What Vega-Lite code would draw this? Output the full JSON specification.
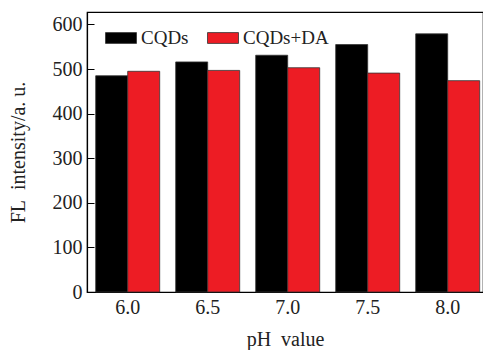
{
  "$schema": "https://vega.github.io/schema/vega-lite/v6.json",
  "width": 396,
  "height": 280,
  "autosize": {"type": "none"},
  "padding": {"left": 87, "top": 12, "right": 0, "bottom": 58},
  "background": "white",
  "config": {
    "font": "Liberation Serif",
    "view": {"stroke": "black", "strokeWidth": 1.2}
  },
  "data": {
    "values": [
      {"pH": "6.0", "sample": "CQDs", "FL": 485},
      {"pH": "6.0", "sample": "CQDs+DA", "FL": 495},
      {"pH": "6.5", "sample": "CQDs", "FL": 516},
      {"pH": "6.5", "sample": "CQDs+DA", "FL": 497},
      {"pH": "7.0", "sample": "CQDs", "FL": 531},
      {"pH": "7.0", "sample": "CQDs+DA", "FL": 503},
      {"pH": "7.5", "sample": "CQDs", "FL": 555},
      {"pH": "7.5", "sample": "CQDs+DA", "FL": 491},
      {"pH": "8.0", "sample": "CQDs", "FL": 579},
      {"pH": "8.0", "sample": "CQDs+DA", "FL": 474}
    ]
  },
  "mark": {"type": "bar", "stroke": "#333333", "strokeWidth": 0.8},
  "encoding": {
    "x": {
      "field": "pH",
      "type": "nominal",
      "scale": {"paddingInner": 0.2, "paddingOuter": 0.075, "align": 0.725},
      "axis": {
        "title": "pH\u00a0\u00a0value",
        "labelAngle": 0,
        "ticks": false,
        "labelFontSize": 20,
        "labelColor": "#222222",
        "labelPadding": 5,
        "titleFontSize": 20,
        "titleFontWeight": "normal",
        "titleColor": "#222222",
        "titlePadding": 12,
        "domainColor": "black",
        "domainWidth": 1.2
      }
    },
    "xOffset": {"field": "sample", "type": "nominal", "scale": {"paddingInner": 0, "paddingOuter": 0}},
    "y": {
      "field": "FL",
      "type": "quantitative",
      "scale": {"domain": [0, 628], "nice": false},
      "axis": {
        "title": "FL\u00a0\u00a0intensity/a.\u00a0u.",
        "values": [0, 100, 200, 300, 400, 500, 600],
        "grid": false,
        "tickSize": -7,
        "tickColor": "black",
        "labelFontSize": 20,
        "labelColor": "#222222",
        "labelPadding": 12,
        "titleFontSize": 20,
        "titleFontWeight": "normal",
        "titleColor": "#222222",
        "titlePadding": 24,
        "domainColor": "black",
        "domainWidth": 1.2
      }
    },
    "color": {
      "field": "sample",
      "type": "nominal",
      "scale": {"domain": ["CQDs", "CQDs+DA"], "range": ["#000000", "#ED1C24"]},
      "legend": {
        "title": null,
        "orient": "none",
        "direction": "horizontal",
        "legendX": 18,
        "legendY": 10,
        "symbolType": "M-1,-0.35H1V0.35H-1Z",
        "symbolSize": 961,
        "symbolStrokeColor": "#333333",
        "symbolStrokeWidth": 0.8,
        "symbolOpacity": 1,
        "labelFontSize": 19,
        "labelColor": "#222222",
        "labelOffset": 4,
        "columnPadding": 16,
        "padding": 0
      }
    }
  }
}
